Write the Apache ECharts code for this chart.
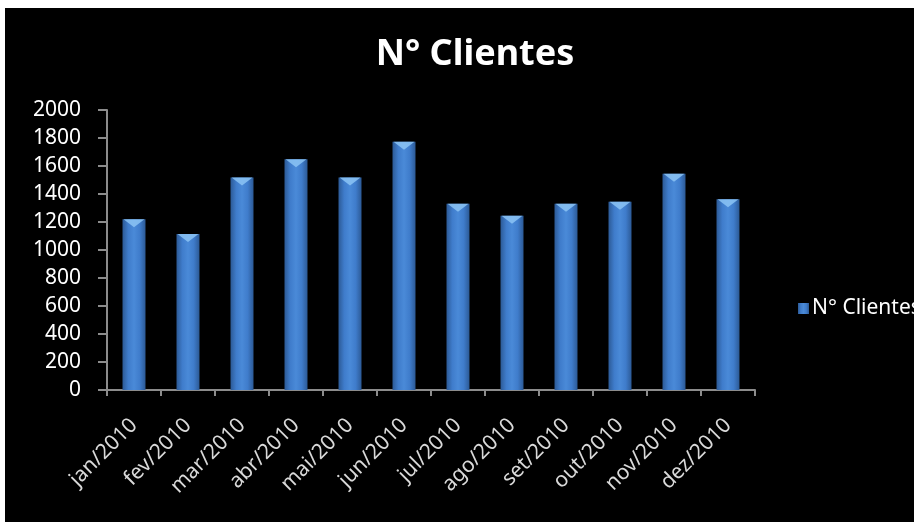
<!DOCTYPE html>
<html>
<head>
<meta charset="utf-8">
<style>
html,body{margin:0;padding:0;background:#fff;}
#c{width:914px;height:522px;}
</style>
<script src="https://cdn.jsdelivr.net/npm/echarts@6/dist/echarts.min.js"></script>
</head>
<body>
<div id="c"></div>
<script>
const categories = ['jan/2010','fev/2010','mar/2010','abr/2010','mai/2010','jun/2010','jul/2010','ago/2010','set/2010','out/2010','nov/2010','dez/2010'];
const clientes = [1220, 1115, 1517, 1648, 1517, 1774, 1331, 1245, 1331, 1345, 1545, 1362];
const yTicks = {min: 0, max: 2000, interval: 200};
const seriesName = 'N° Clientes';

const font = '"Noto Sans", sans-serif';
const barGrad = {
  type: 'linear', x: 0, y: 0, x2: 1, y2: 0,
  colorStops: [
    {offset: 0, color: '#2c5a96'},
    {offset: 0.25, color: '#3f7ccb'},
    {offset: 0.5, color: '#4a8ad8'},
    {offset: 0.75, color: '#3f7ccb'},
    {offset: 1, color: '#2c5a96'}
  ]
};

const chart = echarts.init(document.getElementById('c'), null, {renderer: 'canvas'});
chart.setOption({
  backgroundColor: '#ffffff',
  animation: false,
  graphic: [{
    type: 'rect', z: -10, silent: true,
    shape: {x: 5, y: 8, width: 909, height: 514},
    style: {fill: '#000000'}
  }],
  title: {
    text: seriesName,
    left: 470, top: 32, textAlign: 'center',
    textStyle: {color: '#ffffff', fontFamily: font, fontWeight: 'bold', fontSize: 36}
  },
  legend: {
    data: [seriesName],
    left: 793, top: 293,
    itemWidth: 11, itemHeight: 11, itemGap: 4,
    icon: 'rect',
    textStyle: {color: '#ffffff', fontFamily: font, fontSize: 21, padding: [0,0,0,-2]}
  },
  grid: {left: 107, right: 159, top: 110, bottom: 132, containLabel: false},
  xAxis: {
    type: 'category',
    data: categories,
    axisLine: {lineStyle: {color: '#8c8c8c', width: 2}},
    axisTick: {show: true, length: 6, lineStyle: {color: '#8c8c8c', width: 2}},
    axisLabel: {color: '#d9d9d9', fontFamily: font, fontSize: 21, rotate: 45, margin: 32, interval: 0}
  },
  yAxis: {
    type: 'value',
    min: yTicks.min, max: yTicks.max, interval: yTicks.interval,
    splitLine: {show: false},
    axisLine: {show: true, lineStyle: {color: '#8c8c8c', width: 2}},
    axisTick: {show: true, length: 9, lineStyle: {color: '#8c8c8c', width: 2}},
    axisLabel: {color: '#ffffff', fontFamily: font, fontSize: 21, margin: 26, formatter: v => String(v)}
  },
  series: [{
    name: seriesName,
    type: 'bar',
    data: clientes,
    barWidth: 23,
    itemStyle: {color: barGrad}
  }, {
    name: 'topo',
    type: 'pictorialBar',
    data: clientes,
    symbol: 'triangle',
    symbolRotate: 180,
    symbolSize: [21, 8],
    symbolPosition: 'end',
    silent: true,
    z: 3,
    itemStyle: {color: '#8cc4f4', opacity: 0.85}
  }]
});
</script>
</body>
</html>
